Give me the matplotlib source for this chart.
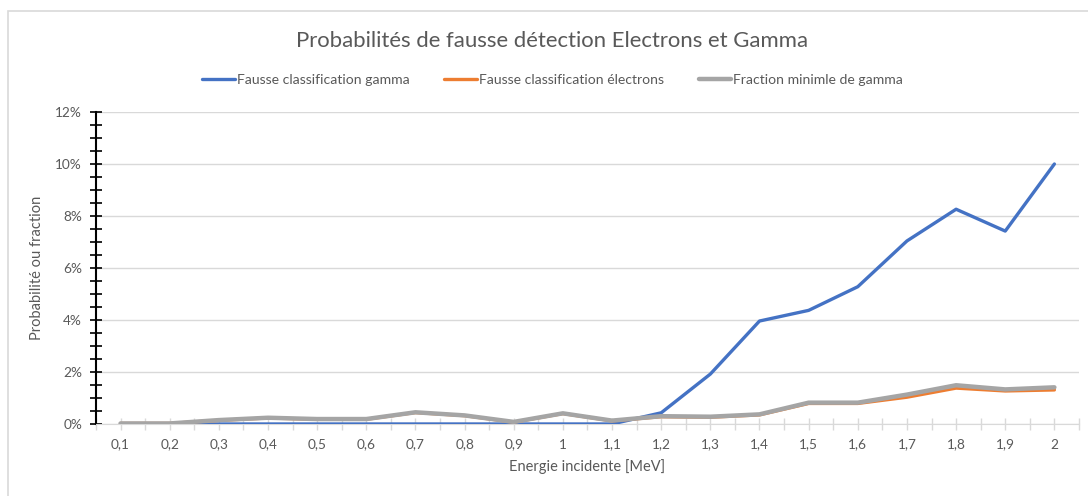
import matplotlib.pyplot as plt
import numpy as np
from matplotlib.patches import Rectangle
from matplotlib.ticker import FixedLocator, MultipleLocator

energies = ['0,1', '0,2', '0,3', '0,4', '0,5', '0,6', '0,7', '0,8', '0,9', '1',
            '1,1', '1,2', '1,3', '1,4', '1,5', '1,6', '1,7', '1,8', '1,9', '2']

# valeurs en %
gamma_mal_classe = [0, 0, 0, 0, 0, 0, 0, 0, 0, 0,
                    0, 0.43, 1.92, 3.96, 4.37, 5.28, 7.04, 8.26, 7.42, 10.0]
electrons_mal_classe = [0.02, 0.02, 0.14, 0.23, 0.18, 0.18, 0.44, 0.32, 0.07, 0.40,
                        0.12, 0.28, 0.26, 0.35, 0.79, 0.79, 1.03, 1.38, 1.27, 1.31]
fraction_min_gamma = [0.02, 0.02, 0.15, 0.24, 0.19, 0.19, 0.45, 0.33, 0.08, 0.41,
                      0.13, 0.30, 0.28, 0.37, 0.82, 0.82, 1.13, 1.49, 1.33, 1.41]

gris = '#595959'
plt.rcParams['font.family'] = ['Lato', 'DejaVu Sans']

fig = plt.figure(figsize=(10.88, 4.96), dpi=100)
ax = fig.add_axes([0.0882, 0.1452, 0.9035, 0.629])

# cadre du graphique
fig.patches.append(Rectangle((8 / 1088, -0.1), 1.2, 1 - 11 / 496 + 0.1,
                             transform=fig.transFigure, fill=False,
                             edgecolor='#D9D9D9', linewidth=1.2))

x = np.arange(len(energies))
ax.plot(x, gamma_mal_classe, color='#4472C4', lw=2.4, solid_capstyle='round',
        label='Fausse classification gamma', zorder=3)
ax.plot(x, electrons_mal_classe, color='#ED7D31', lw=2.4, solid_capstyle='round',
        label='Fausse classification électrons', zorder=4)
ax.plot(x, fraction_min_gamma, color='#A5A5A5', lw=3.2, solid_capstyle='round',
        label='Fraction minimle de gamma', zorder=5)

ax.set_xlim(-0.5, len(energies) - 0.5)
ax.set_ylim(0, 12)

ax.set_xticks(x)
ax.set_xticklabels(energies)
ax.xaxis.set_minor_locator(FixedLocator(np.arange(-0.5, len(energies), 1.0)))
ax.tick_params(axis='x', which='both', direction='inout', length=9, width=1,
               color='#D9D9D9', labelcolor=gris, labelsize=9.8, pad=6)

ax.set_yticks(np.arange(0, 13, 2))
ax.set_yticklabels([f'{v}%' for v in range(0, 13, 2)])
ax.yaxis.set_minor_locator(MultipleLocator(0.5))
ax.tick_params(axis='y', which='both', direction='inout', length=8, width=1.2,
               color='black', labelcolor=gris, labelsize=9.8, pad=6)

ax.grid(axis='y', color='#D9D9D9', lw=1)
ax.set_axisbelow(True)
for s in ['top', 'right']:
    ax.spines[s].set_visible(False)
ax.spines['left'].set_color('black')
ax.spines['left'].set_linewidth(1.5)
ax.spines['bottom'].set_color('#D9D9D9')

ax.set_xlabel('Energie incidente [MeV]', fontsize=10.5, color=gris, labelpad=6)
ax.set_ylabel('Probabilité ou fraction', fontsize=10.5, color=gris, labelpad=8)

fig.text(0.507, 0.918, 'Probabilités de fausse détection Electrons et Gamma',
         ha='center', va='center', fontsize=15.9, color=gris)
fig.legend(loc='center', bbox_to_anchor=(0.508, 0.838), ncol=3, frameon=False,
           fontsize=10.1, labelcolor=gris, handlelength=2.3, handletextpad=0.15,
           columnspacing=2.5)

fig.savefig('out.png', dpi=100)
